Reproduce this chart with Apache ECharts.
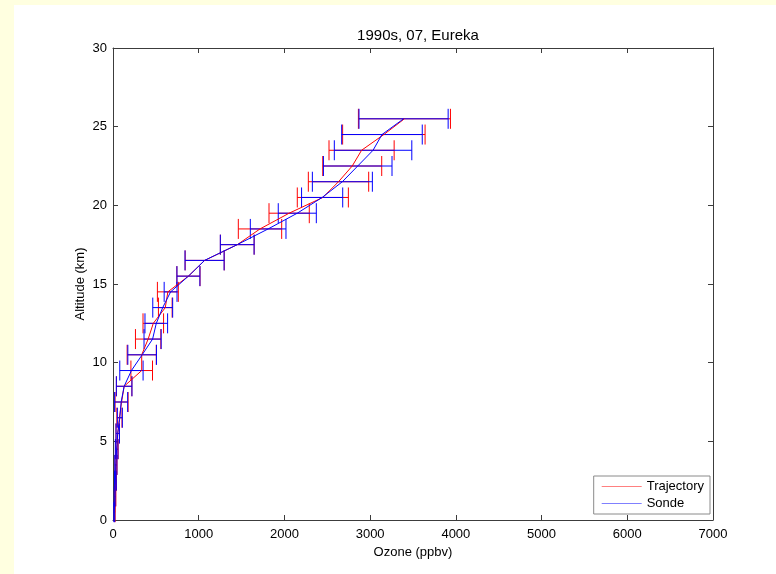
<!DOCTYPE html>
<html>
<head>
<meta charset="utf-8">
<script src="https://cdn.jsdelivr.net/npm/echarts@6/dist/echarts.min.js"></script>
<style>
html,body{margin:0;padding:0;background:#ffffe0;}
#bg{position:absolute;left:14px;top:5px;width:762px;height:569px;background:#ffffff;}
#chart{position:absolute;left:0;top:0;width:776px;height:574px;}
</style>
</head>
<body>
<div id="bg"></div>
<div id="chart"></div>
<script>
const altitudes = [0.5,1.5,2.5,3.5,4.5,5.5,6.5,7.5,8.5,9.5,10.5,11.5,12.5,13.5,14.5,15.5,16.5,17.5,18.5,19.5,20.5,21.5,22.5,23.5,24.5,25.5];
const trajectoryMean = [20,25,30,35,45,55,75,100,130,335,335,410,470,610,640,880,1070,1450,1715,2055,2448,2631,2791,2900,3160,3400];
const trajectoryErr  = [5,8,10,12,15,20,30,76,90,126,170,148,120,80,122,135,228,197,253,235,298,352,344,380,481,537];
const sondeMean = [15,22,28,33,42,55,80,95,130,215,340,462,505,580,672,880,1068,1449,1810,2150,2440,2676,2855,3034,3138,3390];
const sondeErr  = [5,8,10,12,15,20,29,76,91,136,167,100,132,116,75,134,228,197,208,222,240,350,400,452,470,520];
const xTicks = [0,1000,2000,3000,4000,5000,6000,7000];
const yTicks = [0,5,10,15,20,25,30];

const lineData = (m) => altitudes.map((a,i) => [m[i], a]);
const errData = (m,e) => altitudes.map((a,i) => [m[i]-e[i], m[i]+e[i], a]);

function errRender(color){
  return function(params, api){
    const lo = api.coord([api.value(0), api.value(2)]);
    const hi = api.coord([api.value(1), api.value(2)]);
    const h = 10;
    const st = {stroke: color, lineWidth: 1};
    return {type:'group', children:[
      {type:'line', shape:{x1:lo[0],y1:lo[1],x2:hi[0],y2:hi[1]}, style:st},
      {type:'line', shape:{x1:lo[0],y1:lo[1]-h,x2:lo[0],y2:lo[1]+h}, style:st},
      {type:'line', shape:{x1:hi[0],y1:hi[1]-h,x2:hi[0],y2:hi[1]+h}, style:st}
    ]};
  };
}

const font = 'Liberation Sans, Arial, sans-serif';
const axisCommon = {
  min: 0,
  axisLine: {show:true, onZero:false, lineStyle:{color:'#3c3c3c', width:1}},
  axisTick: {show:true, inside:true, length:5, lineStyle:{color:'#3c3c3c'}},
  splitLine: {show:false},
};

const chart = echarts.init(document.getElementById('chart'));
chart.setOption({
  animation: false,
  textStyle: {fontFamily: font},
  title: {text:'1990s, 07, Eureka', left: 413, top: 23, textAlign:'center',
    textStyle:{fontSize:15, fontWeight:'normal', color:'#000', fontFamily:font}},
  grid: {left:113, right:63, top:48, bottom:54, containLabel:false},
  xAxis: [
    Object.assign({}, axisCommon, {type:'value', position:'bottom', max:7000, interval:1000,
      name:'Ozone (ppbv)', nameLocation:'middle', nameGap:23,
      nameTextStyle:{fontSize:13, color:'#000', fontFamily:font},
      axisLabel:{fontSize:13, color:'#000', margin:8, fontFamily:font,
        formatter:(v)=> xTicks.includes(v) ? String(v) : ''}}),
    Object.assign({}, axisCommon, {type:'value', position:'top', max:7000, interval:1000,
      axisLabel:{show:false}})
  ],
  yAxis: [
    Object.assign({}, axisCommon, {type:'value', position:'left', max:30, interval:5,
      name:'Altitude (km)', nameLocation:'middle', nameGap:26, nameRotate:90,
      nameMoveOverlap:false,
      nameTextStyle:{fontSize:13, color:'#000', fontFamily:font},
      axisLabel:{fontSize:13, color:'#000', margin:6, fontFamily:font,
        formatter:(v)=> yTicks.includes(v) ? String(v) : ''}}),
    Object.assign({}, axisCommon, {type:'value', position:'right', max:30, interval:5,
      axisLabel:{show:false}})
  ],
  legend: {
    data:['Trajectory','Sonde'],
    orient:'vertical', right: 66, bottom: 60,
    backgroundColor:'#ffffff', borderColor:'#8a8a8a', borderWidth:1,
    padding:[4,6,4,8], itemGap:4,
    icon:'rect', itemWidth:40, itemHeight:1,
    textStyle:{fontSize:13, color:'#000', fontFamily:font}
  },
  series: [
    {name:'TrajErr', type:'custom', renderItem: errRender('#ff0000'),
      encode:{x:[0,1], y:2}, data: errData(trajectoryMean, trajectoryErr), z:2, silent:true},
    {name:'SondeErr', type:'custom', renderItem: errRender('#0000ff'),
      encode:{x:[0,1], y:2}, data: errData(sondeMean, sondeErr), z:3, silent:true},
    {name:'Trajectory', type:'line', data: lineData(trajectoryMean), showSymbol:false,
      lineStyle:{color:'#ff0000', width:1}, itemStyle:{color:'#ff8080'}, z:4},
    {name:'Sonde', type:'line', data: lineData(sondeMean), showSymbol:false,
      lineStyle:{color:'#0000ff', width:1}, itemStyle:{color:'#8080ff'}, z:5}
  ]
});
</script>
</body>
</html>
